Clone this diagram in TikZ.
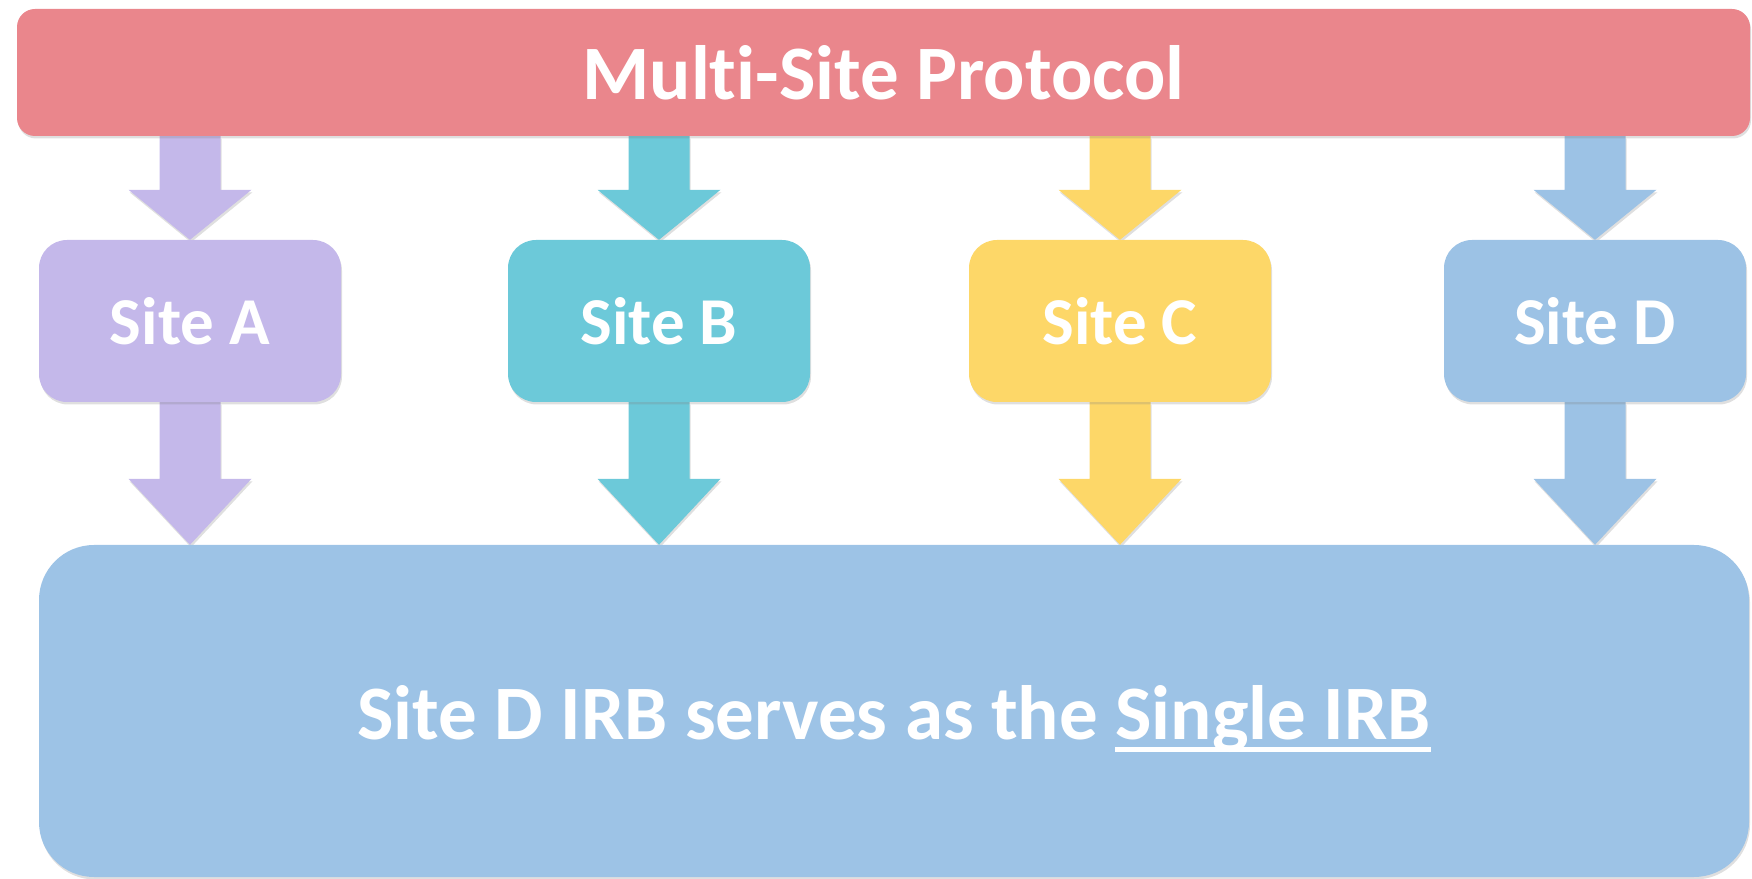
\documentclass[tikz,border=0pt]{standalone}
\usepackage{fontspec}
\setmainfont[Ligatures=NoCommon]{Carlito}
\usetikzlibrary{shadows, backgrounds}

\definecolor{protored}{HTML}{EA868C}
\definecolor{sitea}{HTML}{C4B8EA}
\definecolor{siteb}{HTML}{6CC9D9}
\definecolor{sitec}{HTML}{FDD768}
\definecolor{sited}{HTML}{9CC2E5}
\definecolor{irbblue}{HTML}{9DC3E6}

% thick white underline
\newcommand{\thickul}[1]{\setbox0=\hbox{#1}\rlap{\rule[-13pt]{\wd0}{5pt}}\box0}

\begin{document}
\begin{tikzpicture}[x=1pt, y=1pt,
    softshadow/.style={drop shadow={shadow xshift=1pt, shadow yshift=-2.5pt, opacity=0.25}},
    sitebox/.style={rounded corners=28pt, fill=#1, text=white, softshadow,
        minimum width=302pt, minimum height=162pt, inner sep=0pt,
        font=\fontsize{67}{72}\selectfont\bfseries},
    block arrow/.style={to path={
        ([xshift=-30.5pt]\tikztostart) -- ([xshift=-30.5pt, yshift=#1]\tikztotarget)
        -- ([xshift=-61.5pt, yshift=#1]\tikztotarget) -- (\tikztotarget)
        -- ([xshift=61.5pt, yshift=#1]\tikztotarget) -- ([xshift=30.5pt, yshift=#1]\tikztotarget)
        -- ([xshift=30.5pt]\tikztostart) -- cycle}}]
    \useasboundingbox (0,0) rectangle (1752,878);

    % Protocol bar
    \node[rounded corners=18pt, fill=protored, text=white, softshadow,
        minimum width=1733pt, minimum height=127pt, inner sep=0pt,
        font=\fontsize{77}{84}\selectfont\bfseries] (proto) at (883.5,805.5) {Multi-Site Protocol};

    % Sites
    \node[sitebox=sitea] (a) at (190,557) {Site A};
    \node[sitebox=siteb] (b) at (659,557) {Site B};
    \node[sitebox=sitec] (c) at (1120,557) {Site C};
    \node[sitebox=sited] (d) at (1595,557) {Site D};

    % Single IRB
    \node[rounded corners=55pt, fill=irbblue, text=white, softshadow,
        minimum width=1710pt, minimum height=332pt, inner sep=0pt,
        text height=56pt, text depth=0pt,
        font=\fontsize{77}{84}\selectfont\bfseries] (irb) at (894,167)
        {Site D IRB serves as the \thickul{Single IRB}};

    % Arrows
    \begin{scope}[on background layer]
        \foreach \s/\col in {a/sitea, b/siteb, c/sitec, d/sited} {
            \fill[\col, softshadow] (proto.south -| \s.north) to[block arrow=50pt] (\s.north);
            \fill[\col, softshadow] (\s.south) to[block arrow=66pt] (\s.south |- irb.north);
        }
    \end{scope}
\end{tikzpicture}
\end{document}
